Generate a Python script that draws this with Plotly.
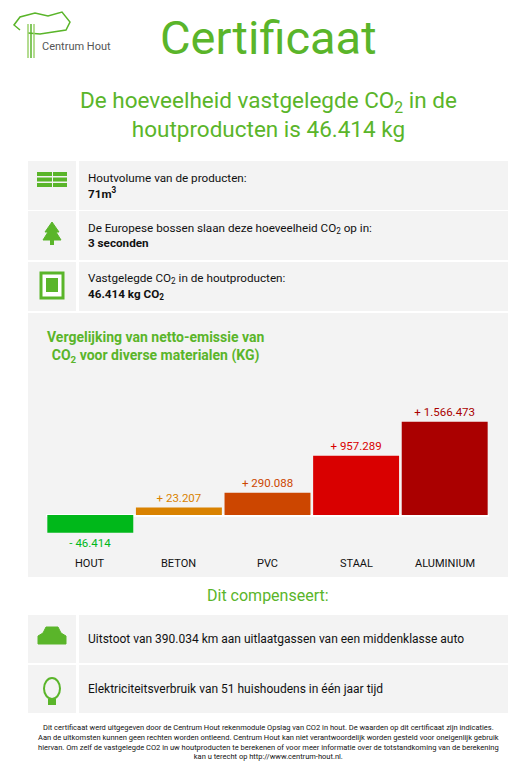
import plotly.graph_objects as go

W, H = 522, 782
# the page body has an 8px margin, so the figure is made that much smaller
OFF = 8
FW, FH = W - 2 * OFF, H - 2 * OFF

# chart data
materials = ["HOUT", "BETON", "PVC", "STAAL", "ALUMINIUM"]
emission_kg = [-46414, 23207, 290088, 957289, 1566473]
bar_colors = ["#00b81a", "#d98200", "#cc4600", "#d90000", "#aa0000"]
labels = ["- 46.414", "+ 23.207", "+ 290.088", "+ 957.289", "+ 1.566.473"]

info_rows = [
    ("Houtvolume van de producten:", "71m<sup>3</sup>"),
    ("De Europese bossen slaan deze hoeveelheid CO<sub>2</sub> op in:", "3 seconden"),
    ("Vastgelegde CO<sub>2</sub> in de houtproducten:", "46.414 kg CO<sub>2</sub>"),
]
comp_rows = [
    "Uitstoot van 390.034 km aan uitlaatgassen van een middenklasse auto",
    "Elektriciteitsverbruik van 51 huishoudens in één jaar tijd",
]
footer = ("Dit certificaat werd uitgegeven door de Centrum Hout rekenmodule Opslag van CO2 in hout. De waarden op dit certificaat zijn indicaties.<br>"
          "Aan de uitkomsten kunnen geen rechten worden ontleend. Centrum Hout kan niet verantwoordelijk worden gesteld voor oneigenlijk gebruik<br>"
          "hiervan. Om zelf de vastgelegde CO2 in uw houtproducten te berekenen of voor meer informatie over de totstandkoming van de berekening<br>"
          "kan u terecht op http://www.centrum-hout.nl.")

GREEN = "#5ab52a"
PANEL = "#f3f3f3"
FONT = "Roboto, sans-serif"

# small bars are drawn with a minimum visible height, as in the original
MIN_VIS = 110000
shown = [v + (MIN_VIS if v > 0 else -2.5 * MIN_VIS) for v in emission_kg]


def px(x):
    return (x - OFF) / FW


def py(y):
    return 1 - (y - OFF) / FH


shapes = []
annotations = []


def rect(x0, y0, x1, y1, color, line=None):
    shapes.append(dict(type="rect", xref="paper", yref="paper",
                       x0=px(x0), x1=px(x1), y0=py(y1), y1=py(y0),
                       fillcolor=color, line=dict(width=0) if line is None else line,
                       layer="below"))


def text(x, y, s, size, color="#111", anchor="left", bold=False, **kw):
    if bold:
        s = "<b>" + s + "</b>"
    annotations.append(dict(x=px(x), y=py(y), xref="paper", yref="paper", text=s,
                            showarrow=False, xanchor=anchor, yanchor="middle",
                            font=dict(size=size, color=color, family=FONT), **kw))


def path(d_pts, color, fill=True, width=1):
    d = "M " + " L ".join(f"{px(a)},{py(b)}" for a, b in d_pts) + (" Z" if fill else "")
    shapes.append(dict(type="path", xref="paper", yref="paper", path=d,
                       fillcolor=color if fill else None,
                       line=dict(color=color, width=width), layer="above"))


# logo
path([(20, 30), (14, 25), (20, 17), (35, 13), (48, 16), (62, 12), (70, 22), (66, 30), (40, 34), (28, 33)], GREEN, fill=False, width=1.5)
for xx in (28, 31, 34):
    shapes.append(dict(type="line", xref="paper", yref="paper", x0=px(xx), x1=px(xx),
                       y0=py(24), y1=py(58), line=dict(color="#9bd06c" if xx != 31 else GREEN, width=1.5)))
text(40, 46, "Centrum Hout", 11, "#555")

# titles
text(268, 37, "Certificaat", 47, GREEN, anchor="center")
text(268, 114, "De hoeveelheid vastgelegde CO<sub>2</sub> in de<br>houtproducten is 46.414 kg", 22.5, GREEN, anchor="center")

# info rows
tops = [161, 211, 262]
for (lab, val), t in zip(info_rows, tops):
    rect(28, t, 76, t + 49, PANEL)
    rect(79, t, 508, t + 49, PANEL)
    text(86, t + 17, lab, 11.7)
    text(86, t + 32, val, 11.7, bold=True)

# icons for info rows
for i in range(3):
    rect(37, 172 + i * 5.5, 52, 176 + i * 5.5, GREEN)
    rect(53, 172 + i * 5.5, 67, 176 + i * 5.5, GREEN)
path([(52, 222), (45, 232), (48, 232), (43, 240), (61, 240), (56, 232), (59, 232)], GREEN)
rect(50, 240, 54, 245, GREEN)
rect(41, 273, 63, 298, "white", line=dict(color=GREEN, width=3))
rect(46, 278, 58, 292, GREEN)

# chart panel
rect(28, 313, 508, 577, PANEL)
text(45, 347, "Vergelijking van netto-emissie van<br>CO<sub>2</sub> voor diverse materialen (KG)", 14, GREEN, bold=True)

fig = go.Figure(go.Bar(
    x=materials, y=shown, marker=dict(color=bar_colors, line=dict(width=0)),
    text=labels, textposition="outside", cliponaxis=False,
    textfont=dict(size=11.5, color=bar_colors, family=FONT),
    width=0.97, hoverinfo="skip",
))
for m in materials:
    annotations.append(dict(x=m, y=py(563), xref="x", yref="paper", yanchor="middle", text=m,
                            showarrow=False, font=dict(size=11, color="#111", family=FONT)))

# compensation
text(268, 595, "Dit compenseert:", 16, GREEN, anchor="center")
for s, t in zip(comp_rows, [615, 665]):
    rect(28, t, 76, t + 48, PANEL)
    rect(79, t, 508, t + 48, PANEL)
    text(86, t + 24, s, 12)
path([(38, 644), (38, 636), (43, 633), (46, 627), (58, 627), (61, 633), (66, 636), (66, 644)], GREEN)
shapes.append(dict(type="circle", xref="paper", yref="paper", x0=px(44), x1=px(60),
                   y0=py(699), y1=py(678), line=dict(color=GREEN, width=2)))
rect(48, 699, 56, 705, GREEN)

text(268, 742, footer, 7.5, "#111", anchor="center")

fig.update_layout(
    width=FW, height=FH, margin=dict(l=0, r=0, t=0, b=0),
    paper_bgcolor="white", plot_bgcolor="rgba(0,0,0,0)", showlegend=False,
    shapes=shapes, annotations=annotations,
    xaxis=dict(domain=[px(46), px(489)], showticklabels=False, showgrid=False, zeroline=False,
               fixedrange=True),
    yaxis=dict(domain=[py(540), py(400)], range=[-450000, 2070000], showticklabels=False,
               showgrid=False, zeroline=True, zerolinecolor="white", zerolinewidth=3,
               fixedrange=True),
)

fig.write_html("out.html")
